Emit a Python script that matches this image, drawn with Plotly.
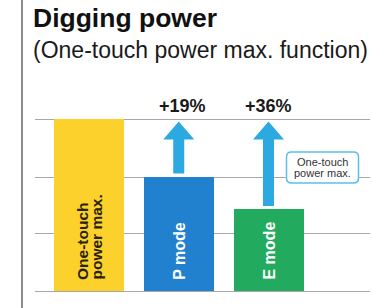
import plotly.graph_objects as go

# ---- data ----
categories = ["One-touch power max.", "P mode", "E mode"]
bar_label_lines = [["One-touch", "power max."], ["P mode"], ["E mode"]]
power_values = [136, 113, 100]
gain_labels = ["", "+19%", "+36%"]
grid_values = [90.4, 112.8, 136]
callout_lines = ["One-touch", "power max."]
title_text = "Digging power"
subtitle_text = "(One-touch power max. function)"

# ---- style ----
W, H = 372, 308
FONT = "Liberation Sans, Arial, Helvetica, sans-serif"
bar_colors = ["#FCD12C", "#2181CE", "#22AA5E"]
label_colors = ["#2a2208", "#ffffff", "#ffffff"]
arrow_color = "#2CA9E1"
grid_color = "#a8a8a8"

Y_MIN, Y_MAX = 67.2, 183.6
X_MIN, X_MAX = -0.6017, 3.131
X_DOM = [35 / W, 370 / W]
Y_DOM = [(H - 291) / H, 1.0]
XPX = (X_DOM[1] - X_DOM[0]) * W / (X_MAX - X_MIN)   # pixels per x unit
YPX = (Y_DOM[1] - Y_DOM[0]) * H / (Y_MAX - Y_MIN)   # pixels per y unit

xs = list(range(len(categories)))
fig = go.Figure()

fig.add_trace(go.Bar(
    x=xs, y=power_values, width=70 / XPX,
    marker=dict(color=bar_colors, line=dict(width=0)),
    hoverinfo="skip", showlegend=False,
))

# arrows from each mode bar up to the power-max level
target = power_values[0]
sw, hw, hh = 5.5 / XPX, 15.5 / XPX, 18 / YPX
for i in range(1, len(categories)):
    x = xs[i]
    y0 = power_values[i] + 3 / YPX
    y1 = target - 2.5 / YPX
    hb = y1 - hh
    px = [x - sw, x + sw, x + sw, x + hw, x, x - hw, x - sw, x - sw]
    py = [y0, y0, hb, hb, y1, hb, hb, y0]
    fig.add_trace(go.Scatter(
        x=px, y=py, mode="lines", fill="toself", fillcolor=arrow_color,
        line=dict(width=0, color=arrow_color), hoverinfo="skip", showlegend=False,
    ))
    fig.add_annotation(
        x=x, y=target, text=gain_labels[i], showarrow=False,
        xanchor="center", yanchor="bottom", yshift=1, xshift=4 if i == 1 else 0,
        font=dict(family=FONT, size=18, color="#1a1a1a", weight="bold"),
    )

# rotated labels inside bars
for i, lines in enumerate(bar_label_lines):
    n = len(lines)
    for j, line in enumerate(lines):
        off = (j - (n - 1) / 2) * 14
        fig.add_annotation(
            x=xs[i], y=Y_MIN, text=line, showarrow=False, textangle=-90,
            xanchor="center", yanchor="bottom", yshift=9, xshift=off,
            font=dict(family=FONT, size=15.5 if n > 1 else 16,
                      color=label_colors[i], weight="bold"),
        )

# callout box next to E-mode arrow
cx0 = xs[2] + 18 / XPX
cx1 = xs[2] + 90 / XPX
cy_top = power_values[2] + 57 / YPX
cy_bot = power_values[2] + 26 / YPX
rx, ry = 5 / XPX, 5 / YPX
path = (f"M {cx0+rx},{cy_top} L {cx1-rx},{cy_top} Q {cx1},{cy_top} {cx1},{cy_top-ry} "
        f"L {cx1},{cy_bot+ry} Q {cx1},{cy_bot} {cx1-rx},{cy_bot} "
        f"L {cx0+rx},{cy_bot} Q {cx0},{cy_bot} {cx0},{cy_bot+ry} "
        f"L {cx0},{cy_top-ry} Q {cx0},{cy_top} {cx0+rx},{cy_top} Z")
fig.add_shape(type="path", path=path, xref="x", yref="y",
              line=dict(color="#5DBFE8", width=1.5), fillcolor="white", layer="above")
cmid = (cy_top + cy_bot) / 2
for j, line in enumerate(callout_lines):
    fig.add_annotation(
        x=(cx0 + cx1) / 2, y=cmid, text=line, showarrow=False,
        xanchor="center", yanchor="middle", yshift=(0.5 - j) * 10.5,
        font=dict(family=FONT, size=11, color="#333333"),
    )

# title and subtitle
fig.add_annotation(x=31 / W, y=1 - 18 / H, xref="paper", yref="paper",
                   text=title_text, showarrow=False, xanchor="left", yanchor="middle",
                   font=dict(family=FONT, size=26.5, color="#111111", weight="bold"))
fig.add_annotation(x=31 / W, y=1 - 50 / H, xref="paper", yref="paper",
                   text=subtitle_text, showarrow=False, xanchor="left", yanchor="middle",
                   font=dict(family=FONT, size=23, color="#1a1a1a"))

# left border line
fig.add_shape(type="line", xref="paper", yref="paper", x0=22 / W, x1=22 / W, y0=0, y1=1,
              line=dict(color="#8c8c8c", width=2))

fig.update_layout(
    width=W, height=H, margin=dict(l=0, r=0, t=0, b=0),
    paper_bgcolor="white", plot_bgcolor="white",
    xaxis=dict(domain=X_DOM, range=[X_MIN, X_MAX], showgrid=False, zeroline=False,
               showticklabels=False, ticks="", showline=True, linecolor=grid_color, linewidth=1,
               fixedrange=True),
    yaxis=dict(domain=Y_DOM, range=[Y_MIN, Y_MAX], showgrid=True, gridcolor=grid_color,
               gridwidth=1, tickvals=grid_values, showticklabels=False, ticks="",
               zeroline=False, fixedrange=True),
    bargap=0,
)

fig.write_html("out.html", config={"displayModeBar": False},
               post_script="document.body.style.margin='0';document.body.style.overflow='hidden';")
